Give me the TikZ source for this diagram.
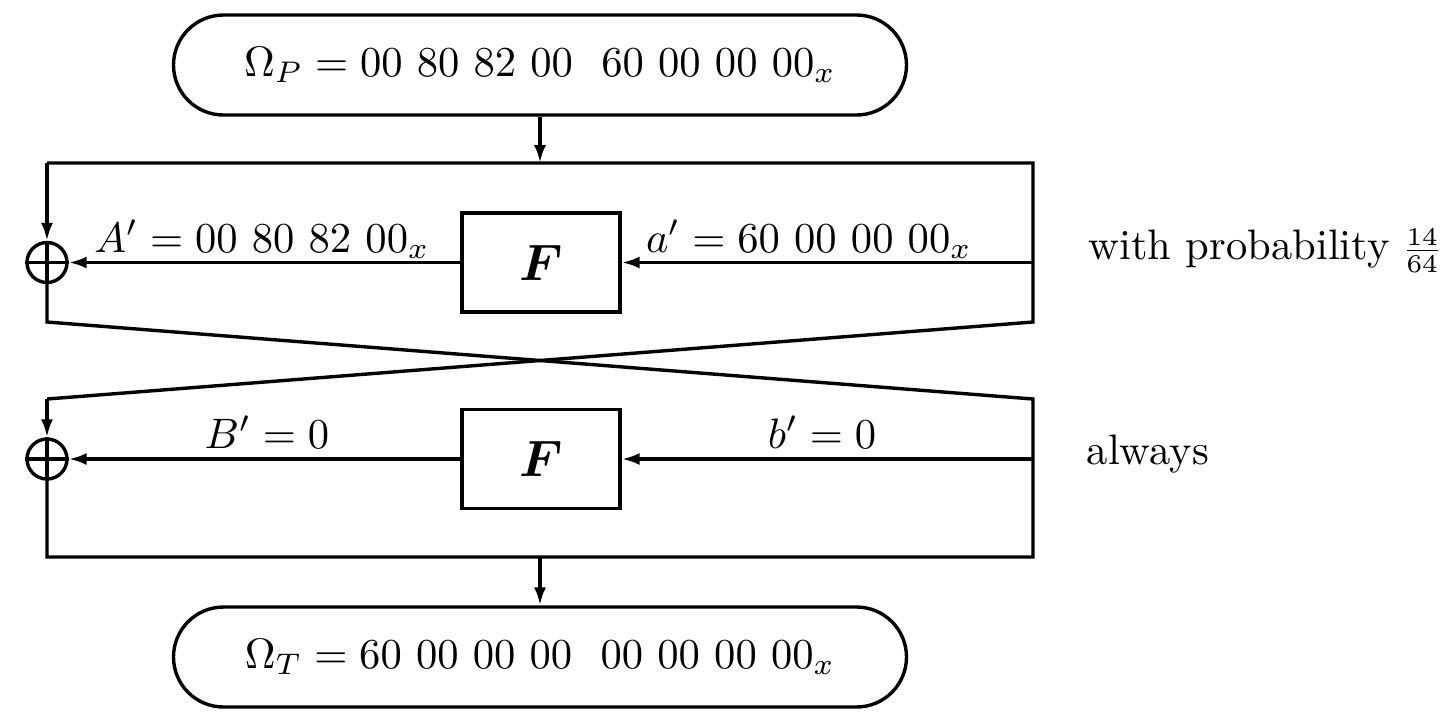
\documentclass[tikz,border=0pt]{standalone}
\usepackage{amsmath,amssymb,bm}
\usetikzlibrary{arrows.meta}
\newlength\pxu
\setlength\pxu{0.2347pt}
\begin{document}
\begin{tikzpicture}[x=\pxu,y=-\pxu,line width=0.8pt,
  >={Latex[length=4.2pt,width=2.8pt]},
  pill/.style={draw,rounded corners=50\pxu,minimum width=733\pxu,minimum height=100\pxu,inner sep=0pt},
  fbox/.style={draw,minimum width=158\pxu,minimum height=99\pxu,inner sep=0pt,font=\large},
  xor/.style={draw,circle,minimum size=40\pxu,inner sep=0pt},
  lbl/.style={anchor=base,inner sep=0pt},
  side/.style={anchor=base west,inner sep=0pt}]
\path[use as bounding box] (0,0) rectangle (1440,722);
% nodes
\node[pill] (P) at (540,65) {$\Omega_P = 00\ 80\ 82\ 00\ \ 60\ 00\ 00\ 00_x$};
\node[pill] (T) at (540,657) {$\Omega_T = 60\ 00\ 00\ 00\ \ 00\ 00\ 00\ 00_x$};
\node[fbox] (F1) at (541,262.5) {$\boldsymbol{F}$};
\node[fbox] (F2) at (541,459) {$\boldsymbol{F}$};
\node[xor] (X1) at (47,262.5) {};
\node[xor] (X2) at (47,459) {};
% coordinates
\coordinate (tl1) at (47,163);
\coordinate (tr1) at (1033,163);
\coordinate (m1) at (540,163);
\coordinate (r1b) at (1033,322);
\coordinate (l1b) at (47,322);
\coordinate (l2t) at (47,399);
\coordinate (r2t) at (1033,399);
\coordinate (bl2) at (47,557);
\coordinate (br2) at (1033,557);
\coordinate (m2) at (540,557);
\coordinate (rin1) at (1033,262.5);
\coordinate (rin2) at (1033,459);
% xor crosses
\draw (X1.north) -- (X1.south) (X1.west) -- (X1.east);
\draw (X2.north) -- (X2.south) (X2.west) -- (X2.east);
% connectors
\draw[->] (P) -- (m1);
\draw (tl1) -- (tr1) -- (r1b) -- (l2t);
\draw[->] (l2t) -- (X2);
\draw[->] (tl1) -- (X1);
\draw (X1) -- (l1b) -- (r2t) -- (br2) -- (bl2) -- (X2);
\draw[->] (rin1) -- (F1);
\draw[->] (F1) -- (X1);
\draw[->] (rin2) -- (F2);
\draw[->] (F2) -- (X2);
\draw[->] (m2) -- (T);
% labels
\node[lbl] (A) at (262,252) {$A' = 00\ 80\ 82\ 00_x$};
\node[lbl] (a) at (809,252) {$a' = 60\ 00\ 00\ 00_x$};
\node[lbl] (B) at (267,448) {$B' = 0$};
\node[lbl] (b) at (822,448) {$b' = 0$};
\node[side] (wp) at (1087,259) {with probability\hspace{4pt}{\fontsize{8}{9}\selectfont\nulldelimiterspace=0pt$\frac{14}{64}$}};
\node[side] (al) at (1085,464) {always};
\end{tikzpicture}
\end{document}
